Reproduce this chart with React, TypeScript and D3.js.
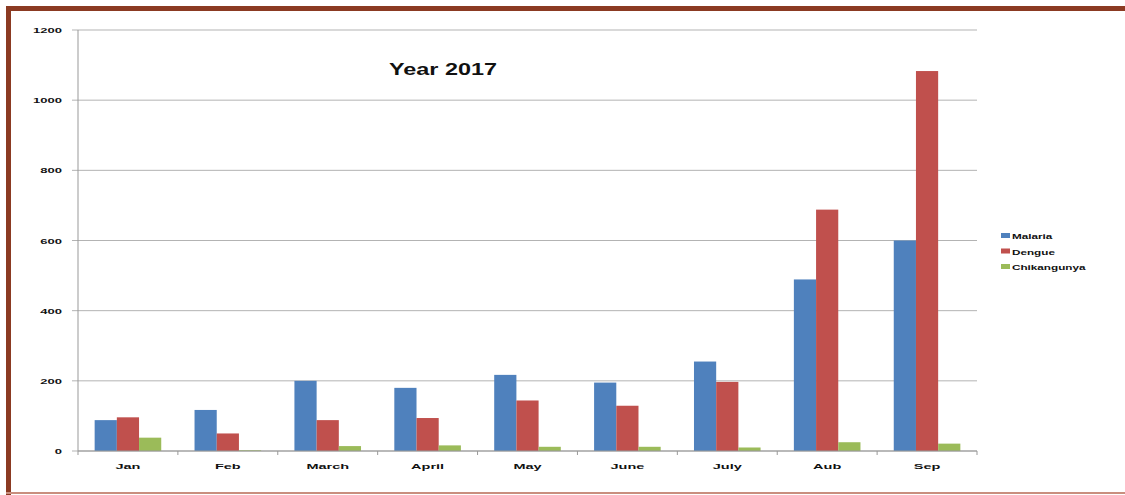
import React from "react";
import * as d3 from "d3";

const months = ["Jan", "Feb", "March", "April", "May", "June", "July", "Aub", "Sep"];
const seriesNames = ["Malaria", "Dengue", "Chikangunya"];
const malaria = [88, 117, 200, 180, 217, 195, 255, 489, 600];
const dengue = [96, 50, 88, 94, 144, 129, 197, 688, 1083];
const chikungunya = [38, 2, 14, 16, 12, 12, 10, 25, 21];
const yTicks = [0, 200, 400, 600, 800, 1000, 1200];
const colors = ["#4F81BD", "#C0504D", "#9BBB59"];
const title = "Year 2017";

export default function App() {
  const W = 1125, H = 495;
  const left = 78, right = 977, top = 30, bottom = 451;
  const series = [malaria, dengue, chikungunya];
  const x = d3.scaleBand().domain(months).range([left, right]).paddingInner(0).paddingOuter(0);
  const inner = d3.scaleBand().domain(seriesNames).range([0, x.bandwidth()]).paddingInner(0).paddingOuter(0.75);
  const y = d3.scaleLinear().domain([0, 1200]).range([bottom, top]);
  const font = "'Liberation Sans', Arial, sans-serif";
  const sx = 1.45, sy = 0.8;
  return (
    <svg width={W} height={H} style={{ position: "absolute", left: 0, top: 0, background: "#fff" }}>
      <rect x={0} y={0} width={W} height={H} fill="#fff" />
      {/* frame */}
      <rect x={6} y={6} width={W - 6} height={5} fill="#8B3A22" />
      <rect x={6} y={6} width={5} height={H - 6} fill="#8B3A22" />
      <rect x={6} y={492} width={W - 6} height={2} fill="#C98E7E" />
      {/* gridlines */}
      {yTicks.map((t) => (
        <g key={t}>
          <line x1={72} x2={right} y1={y(t)} y2={y(t)} stroke="#b3b3b3" strokeWidth={1} />
          <text
            transform={`translate(62,${y(t) + 3}) scale(${sx},${sy})`}
            textAnchor="end"
            fontFamily={font}
            fontWeight="bold"
            fontSize={9}
            fill="#111"
          >
            {t}
          </text>
        </g>
      ))}
      {/* y axis */}
      <line x1={left} x2={left} y1={top} y2={bottom + 4} stroke="#999" strokeWidth={1} />
      {/* bars */}
      {months.map((m, i) => (
        <g key={m}>
          {series.map((s, j) => (
            <rect
              key={j}
              x={(x(m) as number) + (inner(seriesNames[j]) as number)}
              y={y(s[i])}
              width={inner.bandwidth()}
              height={bottom - y(s[i])}
              fill={colors[j]}
            />
          ))}
          <text
            transform={`translate(${(x(m) as number) + x.bandwidth() / 2},${469}) scale(${sx},${sy})`}
            textAnchor="middle"
            fontFamily={font}
            fontWeight="bold"
            fontSize={10}
            fill="#111"
          >
            {m}
          </text>
        </g>
      ))}
      {/* x axis */}
      <line x1={left} x2={right} y1={bottom} y2={bottom} stroke="#999" strokeWidth={1} />
      {months.map((m) => (
        <line key={m} x1={(x(m) as number) + x.bandwidth()} x2={(x(m) as number) + x.bandwidth()} y1={bottom} y2={bottom + 4} stroke="#999" />
      ))}
      {/* title */}
      <text x={389} y={75} fontFamily={font} fontWeight="bold" fontSize={17} fill="#111" textLength={108} lengthAdjust="spacingAndGlyphs">
        {title}
      </text>
      {/* legend */}
      {seriesNames.map((n, j) => (
        <g key={n}>
          <rect x={1001} y={233 + j * 15.5} width={9} height={5} fill={colors[j]} />
          <text
            transform={`translate(1012,${239 + j * 15.5}) scale(1.3,0.75)`}
            fontFamily={font}
            fontWeight="bold"
            fontSize={9}
            fill="#111"
          >
            {n}
          </text>
        </g>
      ))}
    </svg>
  );
}
